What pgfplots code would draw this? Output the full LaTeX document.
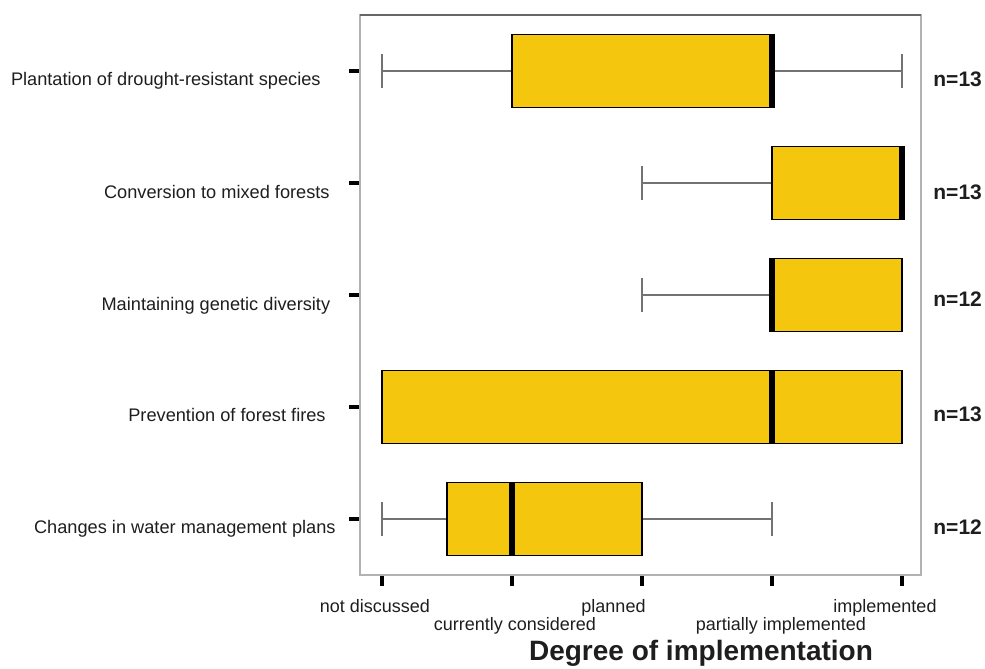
\documentclass[border=0pt]{standalone}
\usepackage{pgfplots}
\pgfplotsset{compat=1.18}
\usepgfplotslibrary{statistics}
\usepackage{fontspec}
\setmainfont{Liberation Sans}

\definecolor{boxyellow}{RGB}{244,199,14}
\definecolor{labelgray}{RGB}{30,30,30}

\begin{document}
\begin{tikzpicture}
% fixed page: the axis box has its lower-left corner at the origin
\useasboundingbox (-180pt,-47pt) rectangle (312.5pt,287.5pt);
\begin{axis}[
  at={(0pt,0pt)}, anchor=south west,
  scale only axis,
  width=280.5pt, height=280pt,
  xmin=-0.169, xmax=4.146,
  ymin=0.5, ymax=5.5,
  xtick={0,1,2,3,4}, ytick={1,2,3,4,5},
  xticklabels={}, yticklabels={},
  xtick pos=left, ytick pos=left,
  tick align=outside,
  major tick length=5.5pt,
  tick style={black, line width=2.4pt},
  axis line style={black!30, line width=1pt},
  boxplot/draw direction=x,
  boxplot/every median/.style={black, line width=3pt},
  boxplot/every whisker/.style={black!55, line width=0.6pt},
  boxplot/box extend=0.652,
  boxplot/whisker extend=0.295,
]
% Plantation of drought-resistant species
\addplot[boxplot prepared={lower whisker=0, lower quartile=1, median=3,
  upper quartile=3, upper whisker=4, draw position=5},
  fill=boxyellow, draw=black, line width=0.6pt] coordinates {};
% Conversion to mixed forests
\addplot[boxplot prepared={lower whisker=2, lower quartile=3, median=4,
  upper quartile=4, upper whisker=4, draw position=4},
  fill=boxyellow, draw=black, line width=0.6pt] coordinates {};
% Maintaining genetic diversity
\addplot[boxplot prepared={lower whisker=2, lower quartile=3, median=3,
  upper quartile=4, upper whisker=4, draw position=3},
  fill=boxyellow, draw=black, line width=0.6pt] coordinates {};
% Prevention of forest fires
\addplot[boxplot prepared={lower whisker=0, lower quartile=0, median=3,
  upper quartile=4, upper whisker=4, draw position=2},
  fill=boxyellow, draw=black, line width=0.6pt] coordinates {};
% Changes in water management plans
\addplot[boxplot prepared={lower whisker=0, lower quartile=0.5, median=1,
  upper quartile=2, upper whisker=3, draw position=1},
  fill=boxyellow, draw=black, line width=0.6pt] coordinates {};
% darker top frame line
\draw[black!60, line width=1pt] (rel axis cs:0,1) -- (rel axis cs:1,1);
\end{axis}

% category labels
\begin{scope}[every node/.style={font=\fontsize{9.1}{11}\selectfont, text=labelgray, inner sep=0pt, anchor=base east}]
\node at (-19.5pt,244.9pt) {Plantation of drought-resistant species};
\node at (-15pt,188.4pt) {Conversion to mixed forests};
\node at (-14.7pt,132.4pt) {Maintaining genetic diversity};
\node at (-17pt,76.7pt) {Prevention of forest fires};
\node at (-12pt,20.7pt) {Changes in water management plans};
\end{scope}

% sample sizes
\begin{scope}[every node/.style={font=\fontsize{10.5}{12}\selectfont\bfseries, text=labelgray, inner sep=0pt, anchor=base west}]
\node at (286.5pt,244pt) {n=13};
\node at (286.5pt,187.5pt) {n=13};
\node at (286.5pt,134pt) {n=12};
\node at (286.5pt,76.5pt) {n=13};
\node at (286.5pt,20pt) {n=12};
\end{scope}

% degree categories, staggered in two rows
\begin{scope}[every node/.style={font=\fontsize{9}{11}\selectfont, text=labelgray, inner sep=0pt, anchor=base}]
\node at (7.5pt,-18.5pt) {not discussed};
\node at (77.5pt,-27.5pt) {currently considered};
\node at (126.75pt,-18.5pt) {planned};
\node at (210.5pt,-27.5pt) {partially implemented};
\node at (262.5pt,-18.5pt) {implemented};
\end{scope}

\node[font=\fontsize{14}{16}\selectfont\bfseries, text=labelgray, inner sep=0pt, anchor=base] at (170.5pt,-42.5pt) {Degree of implementation};
\end{tikzpicture}
\end{document}
